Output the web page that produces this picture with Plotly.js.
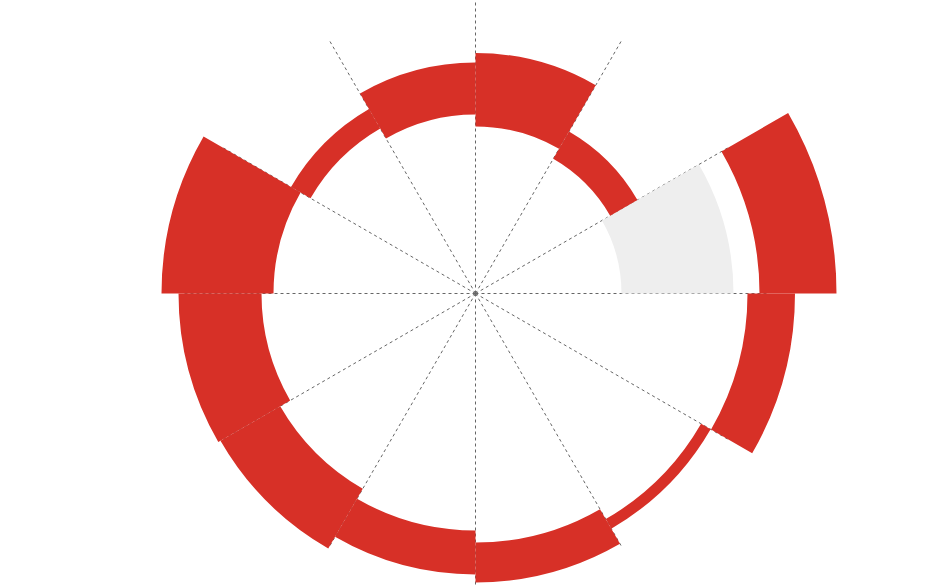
<!DOCTYPE html>
<html>
<head>
<meta charset="utf-8">
<script src="https://cdn.plot.ly/plotly-3.0.1.min.js"></script>
<style>
html,body{margin:0;padding:0;background:#fff;overflow:hidden;width:951px;height:587px;}
#chart{position:absolute;left:0;top:-82px;width:951px;height:751px;}
</style>
</head>
<body>
<div id="chart"></div>
<script>
// Sector centres (degrees, counter-clockwise from east)
var sectors = [15, 45, 75, 105, 135, 165, 195, 225, 255, 285, 315, 345];
// Red bars: inner edge (base) and outer edge
var redBase = [284, 155.5, 167, 179, 190.5, 202, 214, 225.5, 237, 249, 260.5, 272];
var redTop  = [361, 187, 240.5, 231, 213, 314, 297, 294.5, 281, 289, 271.5, 319.5];
// Grey bar in the first sector
var greySectors = [15];
var greyBase = [146];
var greyTop  = [258];

var redLen = redTop.map(function(v, i){ return v - redBase[i]; });
var greyLen = greyTop.map(function(v, i){ return v - greyBase[i]; });

var W = 951, H = 751;
var bigR = H / 2;          // radius of the bar subplot (px)
var gridR = 293.5;         // radius of the grid subplot (px)
var cx = W / 2, cy = H / 2;

var data = [
  {
    // invisible anchor so the grid subplot is drawn
    type: 'scatterpolar',
    subplot: 'polar',
    r: [0],
    theta: [0],
    mode: 'markers',
    marker: {opacity: 0, size: 1},
    hoverinfo: 'skip',
    showlegend: false
  },
  {
    type: 'barpolar',
    subplot: 'polar2',
    theta: greySectors,
    r: greyLen,
    base: greyBase,
    width: 30,
    marker: {color: '#eeeeee', line: {width: 0}},
    hoverinfo: 'skip',
    showlegend: false
  },
  {
    type: 'barpolar',
    subplot: 'polar2',
    theta: sectors,
    r: redLen,
    base: redBase,
    width: 30,
    marker: {color: '#d73027', line: {width: 0}},
    hoverinfo: 'skip',
    showlegend: false
  }
];

var hiddenRadial = {showgrid: false, showline: false, showticklabels: false, ticks: ''};

var layout = {
  width: W,
  height: H,
  margin: {l: 0, r: 0, t: 0, b: 0, pad: 0},
  paper_bgcolor: '#ffffff',
  showlegend: false,
  // grid subplot (drawn underneath)
  polar: {
    domain: {x: [(cx - gridR) / W, (cx + gridR) / W], y: [(cy - gridR) / H, (cy + gridR) / H]},
    bgcolor: 'rgba(0,0,0,0)',
    radialaxis: Object.assign({range: [0, gridR]}, hiddenRadial),
    angularaxis: {
      rotation: 0,
      direction: 'counterclockwise',
      tickmode: 'linear',
      tick0: 0,
      dtick: 30,
      showgrid: true,
      gridcolor: '#666666',
      gridwidth: 1,
      griddash: 'dot',
      showline: false,
      showticklabels: false,
      ticks: ''
    }
  },
  // bar subplot (same centre, larger radius so nothing is clipped)
  polar2: {
    domain: {x: [0, 1], y: [0, 1]},
    bgcolor: 'rgba(0,0,0,0)',
    barmode: 'overlay',
    radialaxis: Object.assign({range: [0, bigR]}, hiddenRadial),
    angularaxis: {
      rotation: 0,
      direction: 'counterclockwise',
      showgrid: false,
      showline: false,
      showticklabels: false,
      ticks: ''
    }
  }
};

Plotly.newPlot('chart', data, layout, {displayModeBar: false, staticPlot: true});
</script>
</body>
</html>
